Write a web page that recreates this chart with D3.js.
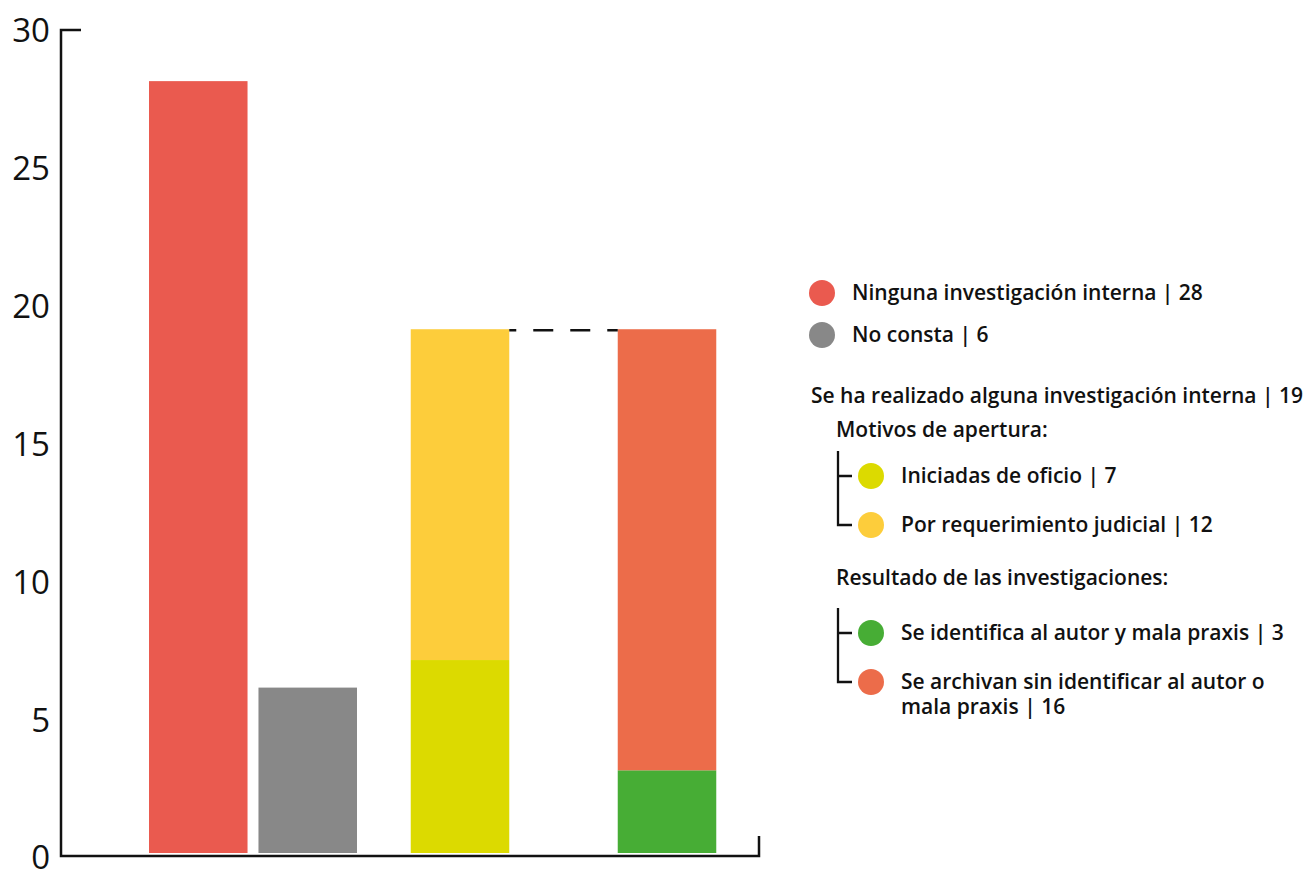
<!DOCTYPE html>
<html lang="es">
<head>
<meta charset="utf-8">
<script src="https://cdn.jsdelivr.net/npm/d3@7/dist/d3.min.js"></script>
<style>
  html, body { margin: 0; padding: 0; background: #fff; }
  svg { display: block; }
  .axis text { font-family: "Open Sans", sans-serif; font-size: 33px; fill: #111; }
  .legend text { font-family: "Open Sans", sans-serif; font-size: 21px; font-weight: 600; fill: #111; }
</style>
</head>
<body>
<svg id="chart" width="1312" height="870"></svg>
<script>
// Investigaciones internas: totals and breakdowns
const categories = ["Ninguna investigación interna", "No consta", "Motivos de apertura", "Resultado de las investigaciones"];
const singleLabels = ["Ninguna investigación interna", "No consta"];
const singleValues = [28, 6];
const motivosLabels = ["Iniciadas de oficio", "Por requerimiento judicial"];
const motivosValues = [7, 12];
const resultadoLabels = ["Se identifica al autor y mala praxis", "Se archivan sin identificar al autor o mala praxis"];
const resultadoValues = [3, 16];
const totalInvestigadas = 19;
const yTicks = [0, 5, 10, 15, 20, 25, 30];

const singleColors = ["#EA5A4F", "#888888"];
const motivosColors = ["#DCDA00", "#FDCD3B"];
const resultadoColors = ["#47AD35", "#EC6C4A"];

const svg = d3.select("#chart");

const y = d3.scaleLinear().domain([0, 30]).range([853, 26]);

// Group centres: the two single bars side by side, then each stacked breakdown
const groups = ["sin", "motivos", "resultado"];
const gx = d3.scalePoint().domain(groups).range([253, 667]);
const inner = d3.scaleBand().domain([0, 1]).range([-104, 104]).paddingInner(0.1);
const barW = inner.bandwidth();

function groupLeft(g) {
  return gx(g) - barW / 2;
}

// Single bars
svg.append("g").selectAll("rect")
  .data(singleValues.map((v, i) => ({ v, i })))
  .join("rect")
  .attr("x", d => gx("sin") + inner(d.i))
  .attr("y", d => y(d.v))
  .attr("width", barW)
  .attr("height", d => y(0) - y(d.v))
  .attr("fill", d => singleColors[d.i]);

// Stacked bars
function stacked(groupKey, values, colors) {
  let acc = 0;
  const segs = values.map((v, i) => { const s = { y0: acc, y1: acc + v, c: colors[i] }; acc += v; return s; });
  svg.append("g").selectAll("rect")
    .data(segs)
    .join("rect")
    .attr("x", groupLeft(groupKey))
    .attr("y", d => y(d.y1))
    .attr("width", barW)
    .attr("height", d => y(d.y0) - y(d.y1))
    .attr("fill", d => d.c);
}
stacked("motivos", motivosValues, motivosColors);
stacked("resultado", resultadoValues, resultadoColors);

// Dashed connector between the two stacks (same total)
svg.append("line")
  .attr("x1", groupLeft("motivos") + barW)
  .attr("x2", groupLeft("resultado"))
  .attr("y1", y(d3.sum(motivosValues)) + 1)
  .attr("y2", y(d3.sum(resultadoValues)) + 1)
  .attr("stroke", "#111")
  .attr("stroke-width", 2.5)
  .attr("stroke-dasharray", "20,17")
  .attr("stroke-dashoffset", 13);

// Axes
const axisShift = 4;
const axisG = svg.append("g").attr("class", "axis").attr("transform", `translate(61,${axisShift})`)
  .call(d3.axisLeft(y).tickValues(yTicks).tickSize(0).tickPadding(11).tickFormat(d3.format("d")));
axisG.select(".domain").remove();
axisG.selectAll("text").attr("dy", "0.36em");

const xEnd = 759;
const yTop = y(30) + axisShift;
const yBase = y(0) + axisShift - 1;
svg.append("path")
  .attr("d", `M81,${yTop}H61V${yBase}H${xEnd}V${yBase - 20}`)
  .attr("fill", "none")
  .attr("stroke", "#111")
  .attr("stroke-width", 2.5);

// Legend
const lg = svg.append("g").attr("class", "legend");
const r = 13;

singleLabels.forEach((lab, i) => {
  const cy = 293 + i * 42;
  lg.append("circle").attr("cx", 822).attr("cy", cy).attr("r", r).attr("fill", singleColors[i]);
  lg.append("text").attr("x", 852).attr("y", cy + 7).text(`${lab} | ${singleValues[i]}`);
});

lg.append("text").attr("x", 811).attr("y", 403).text(`Se ha realizado alguna investigación interna | ${totalInvestigadas}`);

function bracketBlock(title, titleY, labels, values, colors, rowYs, wrap) {
  lg.append("text").attr("x", 836).attr("y", titleY).text(title);
  const top = rowYs[0] - 25, bottom = rowYs[rowYs.length - 1];
  lg.append("path")
    .attr("d", `M838,${top}V${bottom}H852M838,${rowYs[0]}H852`)
    .attr("fill", "none").attr("stroke", "#111").attr("stroke-width", 2.3);
  labels.forEach((lab, i) => {
    const cy = rowYs[i];
    lg.append("circle").attr("cx", 871).attr("cy", cy).attr("r", r).attr("fill", colors[i]);
    const t = lg.append("text").attr("x", 901).attr("y", cy + 7);
    const full = `${lab} | ${values[i]}`;
    if (wrap && wrap[i]) {
      const [a, b] = wrap[i];
      t.append("tspan").attr("x", 901).text(a);
      t.append("tspan").attr("x", 901).attr("dy", 25).text(`${b} | ${values[i]}`);
    } else {
      t.text(full);
    }
  });
}

bracketBlock("Motivos de apertura:", 437, motivosLabels, motivosValues, motivosColors, [476, 525]);
bracketBlock("Resultado de las investigaciones:", 585, resultadoLabels, resultadoValues, resultadoColors, [633, 682],
  [null, ["Se archivan sin identificar al autor o", "mala praxis"]]);
</script>
</body>
</html>
